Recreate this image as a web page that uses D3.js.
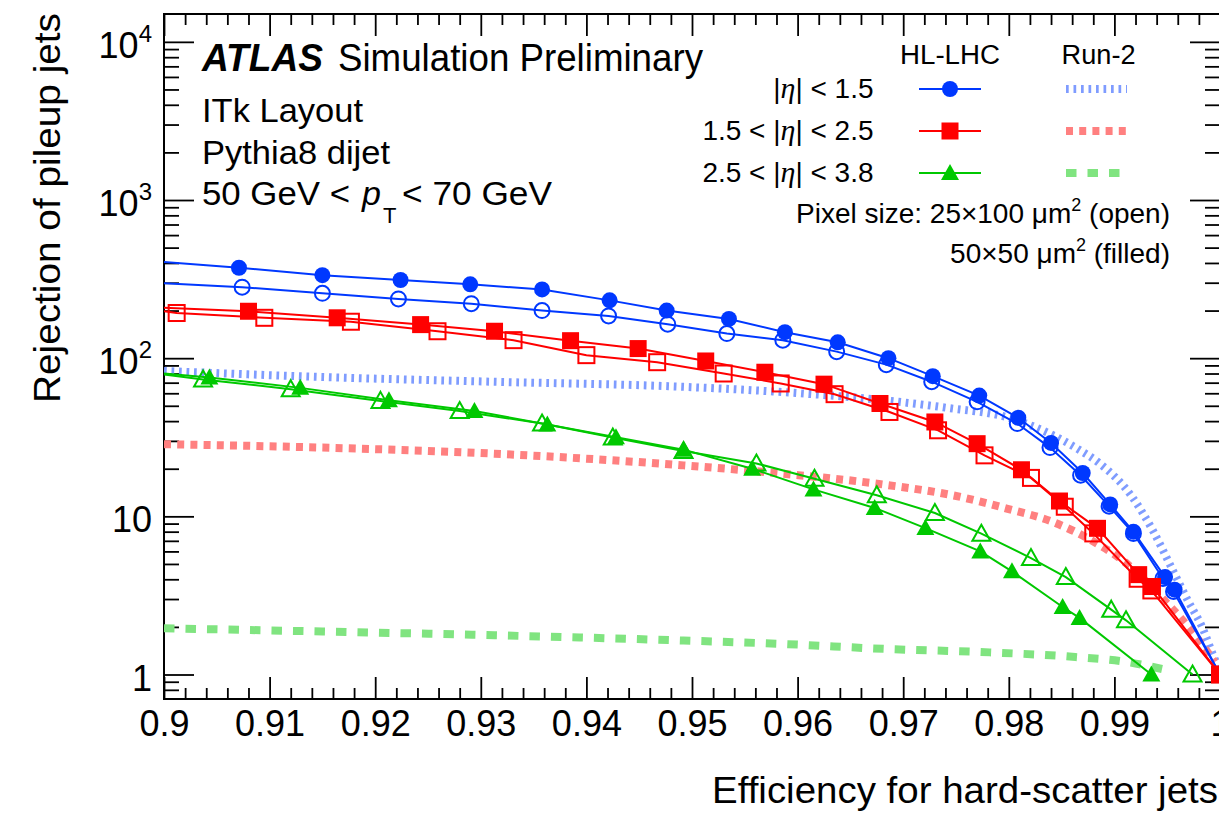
<!DOCTYPE html>
<html><head><meta charset="utf-8">
<script src="https://cdn.jsdelivr.net/npm/d3@7"></script>
<style>
body{margin:0;background:#fff}
text{font-family:"Liberation Sans",Arial,Helvetica,sans-serif;fill:#000}
</style>
</head><body>
<svg id="c" width="1219" height="819"></svg>
<script>
// ---------------- DATA ----------------
// HL-LHC, |eta|<1.5, 50x50 um^2 (filled circles)
const effC50 = [0.9, 0.9071, 0.9150, 0.9224, 0.9290, 0.9358, 0.9422, 0.9476, 0.9535, 0.9588, 0.9638, 0.9686, 0.9728, 0.9772, 0.9809, 0.9840, 0.9870, 0.9896, 0.9918, 0.9948, 0.9957, 1.0];
const rejC50 = [405, 373, 335, 312, 293, 272, 232, 200, 177, 146, 126, 100, 77, 58, 42, 29.1, 18.8, 11.9, 8.0, 4.13, 3.44, 1.0];
// HL-LHC, |eta|<1.5, 25x100 um^2 (open circles)
const effC25 = [0.9, 0.9074, 0.9150, 0.9222, 0.9291, 0.9358, 0.9421, 0.9477, 0.9533, 0.9586, 0.9637, 0.9684, 0.9727, 0.9770, 0.9808, 0.9839, 0.9868, 0.9895, 0.9918, 0.9946, 0.9956, 1.0];
const rejC25 = [298, 281, 257, 237, 221, 200, 185, 164, 143, 130, 110, 91, 71, 53, 38.6, 27.2, 18.2, 11.6, 7.8, 4.05, 3.35, 1.0];
// HL-LHC, 1.5<|eta|<2.5, 50x50 (filled squares)
const effS50 = [0.9, 0.9080, 0.9164, 0.9243, 0.9313, 0.9385, 0.9449, 0.9513, 0.9569, 0.9625, 0.9678, 0.9730, 0.9770, 0.9812, 0.9848, 0.9884, 0.9923, 0.9936, 1.0];
const rejS50 = [208, 198, 180, 163, 148, 129, 115, 96, 81.5, 68.5, 51.7, 39.5, 28.8, 19.7, 12.5, 8.4, 4.28, 3.6, 1.0];
// HL-LHC, 1.5<|eta|<2.5, 25x100 (open squares)
const effS25 = [0.9, 0.9012, 0.9095, 0.9177, 0.9259, 0.9331, 0.9400, 0.9467, 0.9530, 0.9584, 0.9635, 0.9687, 0.9733, 0.9777, 0.9821, 0.9853, 0.9880, 0.9922, 0.9935, 1.0];
const rejS25 = [198, 193, 180, 170, 148, 130, 104.5, 94.3, 80, 69.2, 59.2, 45.7, 35, 24.3, 17.5, 11.5, 7.8, 4.03, 3.4, 1.0];
// HL-LHC, 2.5<|eta|<3.8, 50x50 (filled triangles)
const effT50 = [0.9, 0.9043, 0.9129, 0.9213, 0.9294, 0.9363, 0.9428, 0.9492, 0.9557, 0.9615, 0.9673, 0.9721, 0.9773, 0.9803, 0.9851, 0.9867, 0.9935];
const rejT50 = [80, 75.5, 64.9, 54.2, 46.4, 38.1, 31.6, 26.4, 20.0, 14.8, 11.3, 8.43, 6.0, 4.49, 2.67, 2.28, 1.0];
// HL-LHC, 2.5<|eta|<3.8, 25x100 (open triangles)
const effT25 = [0.9, 0.9037, 0.9120, 0.9205, 0.9280, 0.9358, 0.9425, 0.9492, 0.9561, 0.9616, 0.9675, 0.9730, 0.9774, 0.9821, 0.9854, 0.9897, 0.9911, 0.9974];
const rejT25 = [79, 73.3, 63.7, 53.7, 46.4, 38.6, 31.5, 25.9, 21.6, 17.3, 13.6, 10.5, 7.77, 5.45, 4.13, 2.57, 2.20, 1.0];
// Run-2 curves
const effR2Barrel = [0.9, 0.915, 0.931, 0.949, 0.9586, 0.9684, 0.9742, 0.9800, 0.9840, 0.9866, 0.9886, 0.9916, 0.9937, 0.9955, 0.9970, 0.9983, 0.9995, 1.0];
const rejR2Barrel = [83, 76, 71, 66, 61, 54, 48.5, 42, 33, 26.5, 21.6, 13.5, 8.0, 4.6, 2.9, 2.0, 1.25, 1.05];
const effR2Mid = [0.9, 0.915, 0.9313, 0.9492, 0.9586, 0.9684, 0.9749, 0.9798, 0.984, 0.9879, 0.9912, 0.9944, 0.997, 0.9995];
const rejR2Mid = [28.6, 27.2, 24.9, 21.0, 18.6, 15.8, 13.5, 11.2, 9.3, 7.0, 5.0, 3.1, 2.0, 1.2];
const effR2Fwd = [0.9, 0.915, 0.9313, 0.9492, 0.9586, 0.9684, 0.9782, 0.9863, 0.9912, 0.9946];
const rejR2Fwd = [1.96, 1.87, 1.77, 1.64, 1.56, 1.45, 1.38, 1.29, 1.20, 1.08];
// Axis ticks
const xTickValues = [0.9, 0.91, 0.92, 0.93, 0.94, 0.95, 0.96, 0.97, 0.98, 0.99, 1.0];
const yTickValues = [1, 10, 100, 1000, 10000];
const yTickLabels = [["1", ""], ["10", ""], ["10", "2"], ["10", "3"], ["10", "4"]];
const legendRows = ["1.5", "1.5 < ", "2.5 < "];

// ---------------- STYLE / LAYOUT ----------------
const BLUE = "#0038ff", RED = "#ff0000", GREEN = "#00c800";
const LBLUE = "#7f9cff", LRED = "#ff8080", LGREEN = "#80e480";
const X0 = 164, X1 = 1220, Y0 = 14, Y1 = 699;
const svg = d3.select("#c");
const x = d3.scaleLinear().domain([0.9, 1.0]).range([X0, X1]);
const y = d3.scaleLog().domain([0.7, 15000]).range([Y1, Y0]);

svg.append("defs").append("clipPath").attr("id", "frame")
  .append("rect").attr("x", X0).attr("y", Y0).attr("width", X1 - X0).attr("height", Y1 - Y0);

// ---------------- AXES ----------------
function styleAxis(g) {
  g.select(".domain").remove();
  g.selectAll(".tick line").attr("stroke", "#000").attr("stroke-width", 1.8);
  g.attr("font-family", null).attr("font-size", null);
}
const xMinor = d3.range(0, 51).map(i => +(0.9 + i * 0.002).toFixed(3)).filter(v => !xTickValues.some(t => Math.abs(t - v) < 1e-6));
const yMinor = [0.8, 0.9];
for (let k = 0; k < 4; k++) for (let m = 2; m <= 9; m++) yMinor.push(m * Math.pow(10, k));

// bottom
svg.append("g").attr("transform", `translate(0,${Y1})`)
  .call(d3.axisBottom(x).tickValues(xTickValues).tickSize(-22).tickPadding(11).tickFormat(d => String(d)))
  .call(styleAxis)
  .selectAll("text").attr("font-size", 36);
svg.append("g").attr("transform", `translate(0,${Y1})`)
  .call(d3.axisBottom(x).tickValues(xMinor).tickSize(-11).tickFormat("")).call(styleAxis);
// top
svg.append("g").attr("transform", `translate(0,${Y0})`)
  .call(d3.axisTop(x).tickValues(xTickValues).tickSize(-22).tickFormat("")).call(styleAxis);
svg.append("g").attr("transform", `translate(0,${Y0})`)
  .call(d3.axisTop(x).tickValues(xMinor).tickSize(-11).tickFormat("")).call(styleAxis);
// left
svg.append("g").attr("transform", `translate(${X0},0)`)
  .call(d3.axisLeft(y).tickValues(yTickValues).tickSize(-30).tickFormat("")).call(styleAxis);
svg.append("g").attr("transform", `translate(${X0},0)`)
  .call(d3.axisLeft(y).tickValues(yMinor).tickSize(-15).tickFormat("")).call(styleAxis);
// right
svg.append("g").attr("transform", `translate(${X1},0)`)
  .call(d3.axisRight(y).tickValues(yTickValues).tickSize(-30).tickFormat("")).call(styleAxis);
svg.append("g").attr("transform", `translate(${X1},0)`)
  .call(d3.axisRight(y).tickValues(yMinor).tickSize(-15).tickFormat("")).call(styleAxis);

// y tick labels with superscripts
yTickValues.forEach((v, i) => {
  const t = svg.append("text").attr("x", X0 - 12).attr("y", y(v) + 16)
    .attr("text-anchor", "end").attr("font-size", 36);
  t.append("tspan").text(yTickLabels[i][0]);
  if (yTickLabels[i][1]) t.append("tspan").attr("font-size", 24).attr("dy", -16).text(yTickLabels[i][1]);
});

// frame
svg.append("rect").attr("x", X0).attr("y", Y0).attr("width", X1 - X0).attr("height", Y1 - Y0)
  .attr("fill", "none").attr("stroke", "#000").attr("stroke-width", 2);

// axis titles
svg.append("text").attr("x", 1218).attr("y", 803).attr("text-anchor", "end")
  .attr("font-size", 36).attr("textLength", 506).attr("lengthAdjust", "spacingAndGlyphs")
  .text("Efficiency for hard-scatter jets");
svg.append("text").attr("transform", "translate(60,13) rotate(-90)").attr("text-anchor", "end")
  .attr("font-size", 37).attr("textLength", 390).attr("lengthAdjust", "spacingAndGlyphs")
  .text("Rejection of pileup jets");

// ---------------- SERIES ----------------
const plot = svg.append("g").attr("clip-path", "url(#frame)");
const zip = (a, b) => a.map((v, i) => [v, b[i]]);

const run2 = [
  {eff: effR2Barrel, rej: rejR2Barrel, color: LBLUE, dash: "2.7 4.8"},
  {eff: effR2Mid, rej: rejR2Mid, color: LRED, dash: "7 6.2"},
  {eff: effR2Fwd, rej: rejR2Fwd, color: LGREEN, dash: "10.5 11"}
];
const smooth = d3.line().x(d => x(d[0])).y(d => y(d[1])).curve(d3.curveMonotoneX);
run2.forEach(s => {
  plot.append("path").attr("d", smooth(zip(s.eff, s.rej)))
    .attr("fill", "none").attr("stroke", s.color).attr("stroke-width", 8)
    .attr("stroke-dasharray", s.dash);
});

function marker(g, shape, cx, cy, color, filled) {
  let el;
  if (shape === "circle") el = g.append("circle").attr("cx", cx).attr("cy", cy).attr("r", filled ? 8 : 7.5);
  else if (shape === "square") { const h = filled ? 8.5 : 8; el = g.append("rect").attr("x", cx - h).attr("y", cy - h).attr("width", 2 * h).attr("height", 2 * h); }
  else el = g.append("path").attr("d", `M${cx},${cy - 9}L${cx + 9},${cy + 7}L${cx - 9},${cy + 7}Z`);
  if (filled) el.attr("fill", color).attr("stroke", "none");
  else el.attr("fill", "none").attr("stroke", color).attr("stroke-width", 2);
}

const hl = [
  {eff: effC25, rej: rejC25, color: BLUE, shape: "circle", filled: false},
  {eff: effC50, rej: rejC50, color: BLUE, shape: "circle", filled: true},
  {eff: effS25, rej: rejS25, color: RED, shape: "square", filled: false},
  {eff: effS50, rej: rejS50, color: RED, shape: "square", filled: true},
  {eff: effT25, rej: rejT25, color: GREEN, shape: "triangle", filled: false},
  {eff: effT50, rej: rejT50, color: GREEN, shape: "triangle", filled: true}
];
const straight = d3.line().x(d => x(d[0])).y(d => y(d[1]));
const mg = svg.append("g");
hl.forEach(s => {
  plot.append("path").attr("d", straight(zip(s.eff, s.rej)))
    .attr("fill", "none").attr("stroke", s.color).attr("stroke-width", 2);
});
hl.forEach(s => {
  zip(s.eff, s.rej).filter(d => d[0] > 0.9).forEach(d => marker(mg, s.shape, x(d[0]), y(d[1]), s.color, s.filled));
});

// ---------------- LABELS ----------------
function txt(str, xp, yp, size, o = {}) {
  const t = svg.append("text").attr("x", xp).attr("y", yp).attr("font-size", size)
    .attr("text-anchor", o.anchor || "start");
  if (o.weight) t.attr("font-weight", o.weight);
  if (o.style) t.attr("font-style", o.style);
  if (o.len) t.attr("textLength", o.len).attr("lengthAdjust", "spacingAndGlyphs");
  t.text(str);
  return t;
}
txt("ATLAS", 202, 71, 38, {weight: "bold", style: "italic", len: 121});
txt("Simulation Preliminary", 338, 71, 38, {len: 365});
txt("ITk Layout", 202, 122, 34, {len: 161});
txt("Pythia8 dijet", 202, 164, 34, {len: 188});
txt("50 GeV <", 202, 205, 34, {len: 148});
txt("p", 362, 205, 34, {style: "italic"});
txt("T", 383, 223, 22);
txt("< 70 GeV", 402, 205, 34, {len: 150});

// legend
txt("HL-LHC", 950, 64, 27, {anchor: "middle", len: 100});
txt("Run-2", 1098.6, 64, 27, {anchor: "middle", len: 74});
const rowY = [89, 131, 173];
const rowSuffix = ["| < 1.5", "| < 2.5", "| < 3.8"];
const hlLeg = [hl[1], hl[3], hl[5]];
rowY.forEach((ry, i) => {
  const t = svg.append("text").attr("x", 873.5).attr("y", ry + 9).attr("font-size", 28).attr("text-anchor", "end");
  t.append("tspan").text(i === 0 ? "|" : legendRows[i] + "|");
  t.append("tspan").attr("font-family", "'Liberation Serif','Times New Roman',serif").attr("font-style", "italic").attr("font-size", 30).text("η");
  t.append("tspan").text(rowSuffix[i]);
  svg.append("line").attr("x1", 919).attr("x2", 981).attr("y1", ry).attr("y2", ry)
    .attr("stroke", hlLeg[i].color).attr("stroke-width", 2);
  marker(svg, hlLeg[i].shape, 950, ry, hlLeg[i].color, true);
  svg.append("line").attr("x1", 1066).attr("x2", 1127).attr("y1", ry).attr("y2", ry)
    .attr("stroke", run2[i].color).attr("stroke-width", 8).attr("stroke-dasharray", run2[i].dash);
});
function pixText(pre, post, yp) {
  const t = svg.append("text").attr("x", 1170).attr("y", yp).attr("font-size", 28).attr("text-anchor", "end");
  t.append("tspan").text(pre);
  t.append("tspan").attr("font-size", 18).attr("dy", -12).text("2");
  t.append("tspan").attr("dy", 12).text(post);
}
pixText("Pixel size: 25×100 μm", " (open)", 223);
pixText("50×50 μm", " (filled)", 263);
</script>
</body></html>
